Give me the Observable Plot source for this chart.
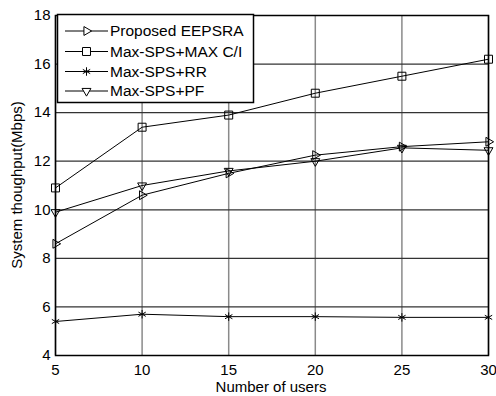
<!DOCTYPE html>
<html>
<head>
<meta charset="utf-8">
<script src="https://cdn.jsdelivr.net/npm/d3@7"></script>
<script src="https://cdn.jsdelivr.net/npm/@observablehq/plot@0.6"></script>
<style>
  html, body { margin: 0; padding: 0; background: #fff; }
  #chart { position: relative; width: 496px; height: 396px; }
  svg { font-family: "Liberation Sans", Arial, sans-serif; }
</style>
</head>
<body>
<div id="chart"></div>
<script>
const users = [5, 10, 15, 20, 25, 30];
const eepsra = [8.6, 10.6, 11.5, 12.25, 12.6, 12.8];
const maxCI = [10.9, 13.4, 13.9, 14.8, 15.5, 16.2];
const rr = [5.4, 5.7, 5.6, 5.6, 5.57, 5.57];
const pf = [9.9, 11.0, 11.6, 12.0, 12.55, 12.45];
const seriesNames = ["Proposed EEPSRA", "Max-SPS+MAX C/I", "Max-SPS+RR", "Max-SPS+PF"];
const xTicks = [5, 10, 15, 20, 25, 30];
const yTicks = [4, 6, 8, 10, 12, 14, 16, 18];
const xLabel = "Number of users";
const yLabel = "System thoughput(Mbps)";

const symbols = [
  {symbol: "triangle", rotate: 90, r: 3.3},
  {symbol: "square", rotate: 0, r: 4.5},
  {symbol: "asterisk", rotate: 0, r: 4},
  {symbol: "triangle", rotate: 180, r: 3.3}
];
const values = [eepsra, maxCI, rr, pf];
const data = [];
values.forEach((arr, s) => arr.forEach((v, i) => data.push({series: seriesNames[s], s, x: users[i], y: v})));

const marks = [
  Plot.ruleX(xTicks, {stroke: "#8a8a8a", strokeWidth: 1.5}),
  Plot.ruleY(yTicks, {stroke: "#333", strokeWidth: 1.2}),
  Plot.axisX(xTicks, {tickSize: 0, tickPadding: 9, fontSize: 15, label: null}),
  Plot.axisY(yTicks, {tickSize: 0, tickPadding: 5, fontSize: 15, label: null}),
  Plot.line(data, {x: "x", y: "y", z: "series", stroke: "black", strokeWidth: 1})
];
symbols.forEach((sy, s) => {
  marks.push(Plot.dot(data.filter(d => d.s === s), {x: "x", y: "y", symbol: () => sy.symbol, r: sy.r, rotate: sy.rotate, stroke: "black", strokeWidth: 1, fill: "none"}));
});
marks.push(Plot.frame({stroke: "black", strokeWidth: 1.5}));

const chart = Plot.plot({
  width: 496, height: 396,
  marginLeft: 55, marginRight: 8, marginTop: 15, marginBottom: 41,
  style: {fontFamily: "Liberation Sans, Arial, sans-serif", fontSize: "15px", background: "white", color: "black"},
  x: {domain: [5, 30], label: null},
  y: {domain: [4, 18], label: null},
  symbol: {type: "identity"},
  marks
});
document.getElementById("chart").appendChild(chart);

const svg = d3.select(chart);
// axis titles
svg.append("text").attr("x", 271).attr("y", 392).attr("text-anchor", "middle")
  .attr("font-size", 15).attr("fill", "black").text(xLabel);
svg.append("text").attr("transform", "translate(22,185) rotate(-90)").attr("text-anchor", "middle")
  .attr("font-size", 15).attr("fill", "black").text(yLabel);

// legend box inside plot
const lg = svg.append("g").attr("class", "legend");
lg.append("rect").attr("x", 57.5).attr("y", 14.5).attr("width", 196).attr("height", 88)
  .attr("fill", "white").attr("stroke", "black").attr("stroke-width", 1.5);
const rowY = [31, 51.5, 71.5, 91];
seriesNames.forEach((name, i) => {
  const y = rowY[i];
  lg.append("line").attr("x1", 65).attr("x2", 108).attr("y1", y).attr("y2", y).attr("stroke", "black").attr("stroke-width", 1);
  const sy = symbols[i];
  const type = sy.symbol === "square" ? d3.symbolSquare : sy.symbol === "asterisk" ? d3.symbolAsterisk : d3.symbolTriangle;
  lg.append("path").attr("d", d3.symbol(type, sy.r * sy.r * Math.PI)())
    .attr("transform", `translate(86.5,${y}) rotate(${sy.rotate})`)
    .attr("fill", "white").attr("stroke", "black").attr("stroke-width", 1);
  lg.append("text").attr("x", 110).attr("y", y).attr("dy", "0.35em").attr("text-anchor", "start")
    .attr("font-size", 15.5).attr("fill", "black").text(name);
});
</script>
</body>
</html>
